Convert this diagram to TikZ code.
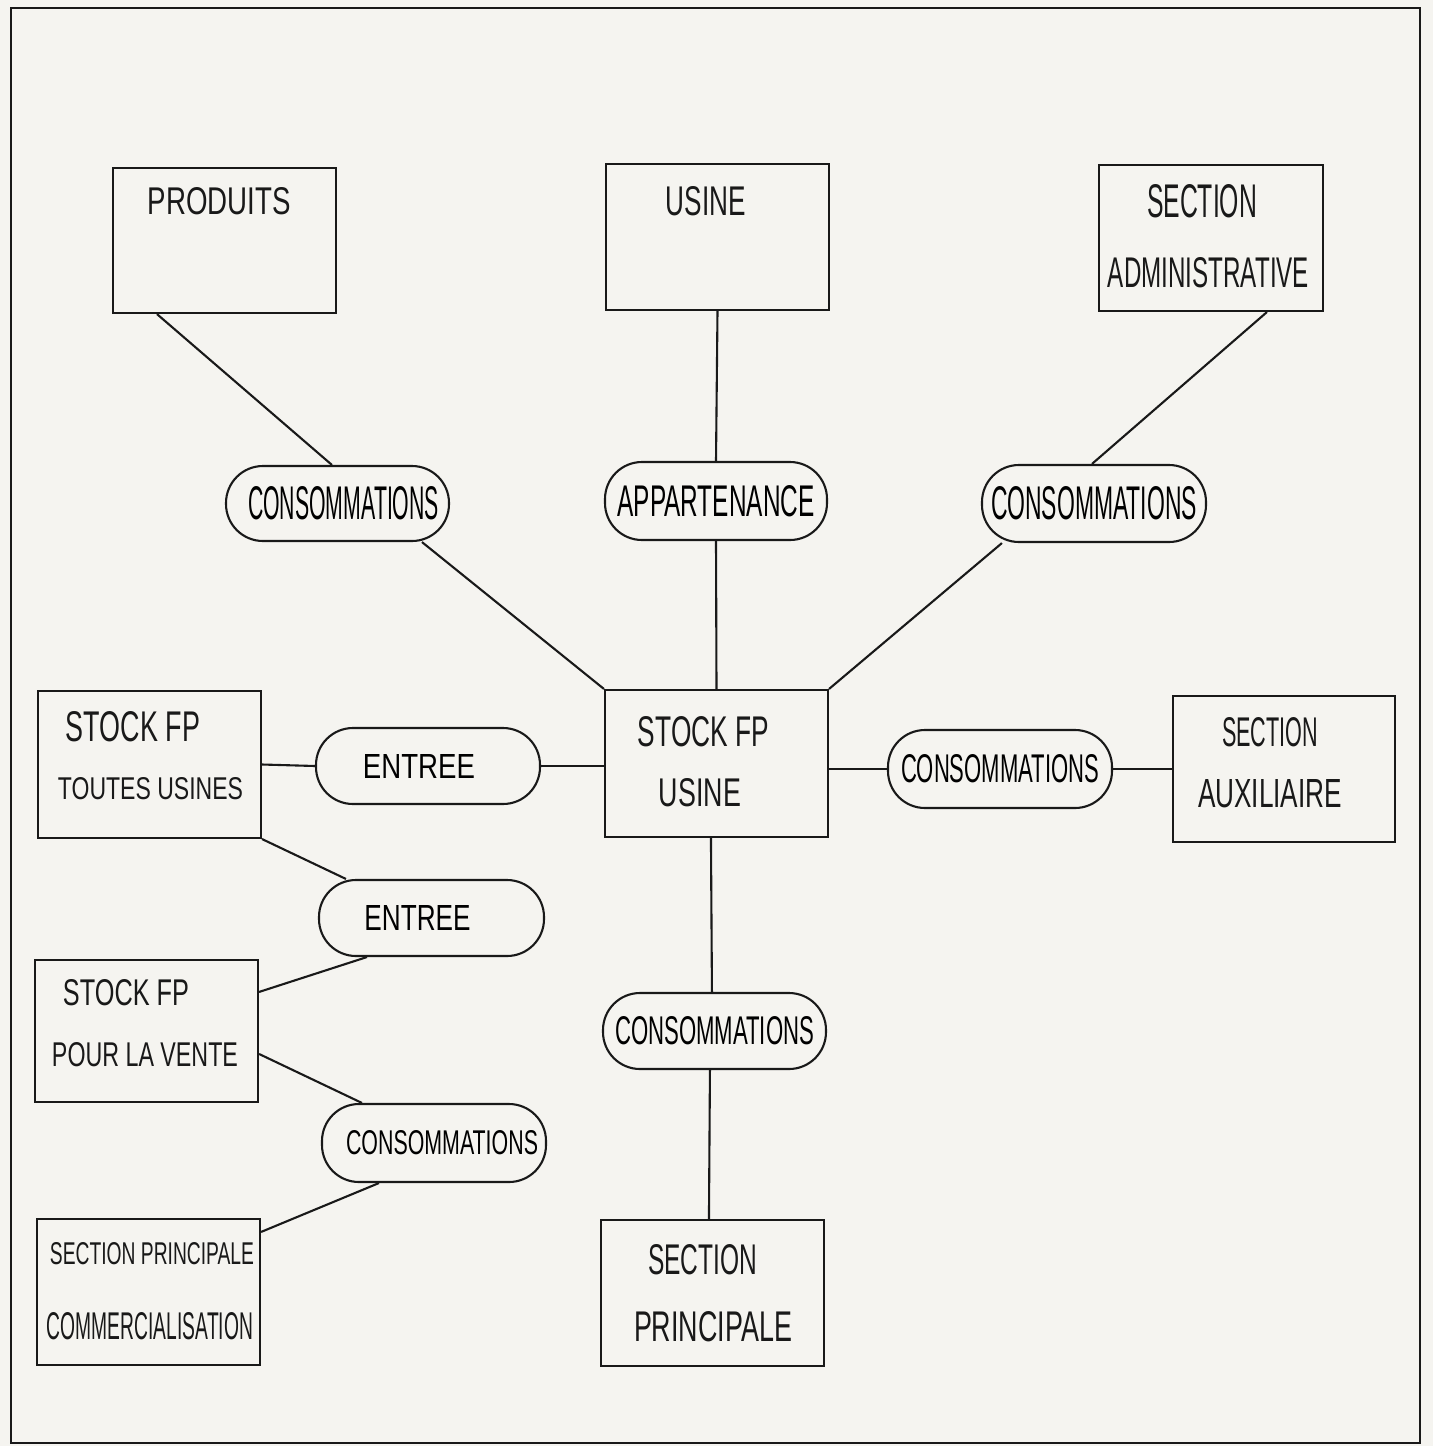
\documentclass[tikz,border=0pt]{standalone}
\usepackage{fontspec}
\usepackage{graphicx}
\setmainfont{Liberation Sans}
\usetikzlibrary{calc}

\definecolor{paper}{RGB}{245,244,240}
\definecolor{ink}{RGB}{25,25,25}

% text squeezed to a given width and cap height (in pt)
\newcommand\caps[3]{\resizebox{#1pt}{#2pt}{#3}}

\tikzset{
  entity/.style={draw=ink, line width=2.1pt, inner sep=0pt, fill=none},
  relation/.style={draw=ink, line width=2.1pt, rounded corners=37pt, inner sep=0pt,
                   minimum width=224pt, minimum height=77pt},
  caption/.style={inner sep=0pt, text=ink},
  link/.style={draw=ink, line width=2.1pt}
}

\begin{document}
\begin{tikzpicture}[x=1pt, y=-1pt]
  \fill[paper] (0,0) rectangle (1433,1446);
  \useasboundingbox (0,0) rectangle (1433,1446);
  \draw[ink, line width=2.4pt] (11,8) rectangle (1420,1443);

  % entities
  \node[entity, minimum width=223pt, minimum height=145pt] (prod) at (224.5,240.5) {};
  \node[entity, minimum width=223pt, minimum height=146pt] (usine) at (717.5,237) {};
  \node[entity, minimum width=224pt, minimum height=146pt] (sadm) at (1211,238) {};
  \node[entity, minimum width=223pt, minimum height=147pt] (stt) at (149.5,764.5) {};
  \node[entity, minimum width=223pt, minimum height=147pt] (stu) at (716.5,763.5) {};
  \node[entity, minimum width=222pt, minimum height=146pt] (saux) at (1284,769) {};
  \node[entity, minimum width=223pt, minimum height=142pt] (stv) at (146.5,1031) {};
  \node[entity, minimum width=223pt, minimum height=146pt] (spc) at (148.5,1292) {};
  \node[entity, minimum width=223pt, minimum height=146pt] (sp) at (712.5,1293) {};

  % entity captions
  \node[caption] (prodA) at (219.5,201.5) {\caps{143}{27}{PRODUITS}};
  \node[caption] (usineA) at (706,201.5) {\caps{80}{29}{USINE}};
  \node[caption] (sadmA) at (1202,201.5) {\caps{110}{33}{SECTION}};
  \node[caption] (sadmB) at (1208.5,273) {\caps{201}{30}{ADMINISTRATIVE}};
  \node[caption] (sttA) at (133,727) {\caps{134}{30}{STOCK FP}};
  \node[caption] (sttB) at (150.5,789) {\caps{185}{22}{TOUTES USINES}};
  \node[caption] (stuA) at (703.5,732) {\caps{131}{30}{STOCK FP}};
  \node[caption] (stuB) at (700,793) {\caps{82}{28}{USINE}};
  \node[caption] (sauxA) at (1270,732.5) {\caps{96}{29}{SECTION}};
  \node[caption] (sauxB) at (1270,794) {\caps{144}{28}{AUXILIAIRE}};
  \node[caption] (stvA) at (126,993) {\caps{126}{26}{STOCK FP}};
  \node[caption] (stvB) at (145,1055) {\caps{186}{24}{POUR LA VENTE}};
  \node[caption] (spcA) at (152,1254) {\caps{204}{22}{SECTION PRINCIPALE}};
  \node[caption] (spcB) at (150,1326.5) {\caps{206}{27}{COMMERCIALISATION}};
  \node[caption] (spA) at (702.5,1260) {\caps{109}{30}{SECTION}};
  \node[caption] (spB) at (713,1327) {\caps{158}{30}{PRINCIPALE}};

  % relations
  \node[relation, minimum width=223pt, minimum height=75pt] (c1) at (337.5,503.5) {\hspace*{12pt}\caps{191}{33}{CONSOMMATIONS}};
  \node[relation, minimum width=222pt, minimum height=78pt] (app) at (716,501) {\caps{197}{31}{APPARTENANCE}};
  \node[relation] (c2) at (1094,503.5) {\caps{206}{33}{CONSOMMATIONS}};
  \node[relation, minimum height=76pt] (ent1) at (428,766) {\caps{112}{24}{ENTREE}\hspace*{18pt}};
  \node[relation, minimum height=78pt] (c3) at (1000,769) {\caps{198}{28}{CONSOMMATIONS}};
  \node[relation, minimum width=225pt, minimum height=76pt] (ent2) at (431.5,918) {\caps{106}{25}{ENTREE}\hspace*{28pt}};
  \node[relation, minimum width=223pt, minimum height=76pt] (c4) at (714.5,1031) {\caps{199}{28}{CONSOMMATIONS}};
  \node[relation, minimum height=78pt] (c5) at (434,1143) {\hspace*{16pt}\caps{192}{24}{CONSOMMATIONS}};

  % links
  \draw[link] ($(prod.south west)+(45,0)$) -- ($(c1.north west)+(107,0)$);
  \draw[link] ($(c1.south west)+(197,0)$) -- (stu.north west);
  \draw[link] (usine.south) -- (app.north);
  \draw[link] (app.south) -- (stu.north);
  \draw[link] ($(sadm.south west)+(169,0)$) -- ($(c2.north west)+(111,0)$);
  \draw[link] ($(c2.south west)+(21,0)$) -- (stu.north east);
  \draw[link] (stt.east) -- (ent1.west);
  \draw[link] (ent1.east) -- (ent1.east -| stu.west);
  \draw[link] (c3.west -| stu.east) -- (c3.west);
  \draw[link] (c3.east) -- (saux.west);
  \draw[link] (stt.south east) -- ($(ent2.north west)+(28,0)$);
  \draw[link] ($(ent2.south west)+(49,0)$) -- ($(stv.north east)+(0,33)$);
  \draw[link] ($(stv.north east)+(0,95)$) -- ($(c5.north west)+(41,0)$);
  \draw[link] ($(c5.south west)+(58,0)$) -- ($(spc.north east)+(0,14)$);
  \draw[link] ($(stu.south west)+(107,0)$) -- ($(c4.north west)+(110,0)$);
  \draw[link] ($(c4.south west)+(108,0)$) -- ($(sp.north west)+(109,0)$);
\end{tikzpicture}
\end{document}
